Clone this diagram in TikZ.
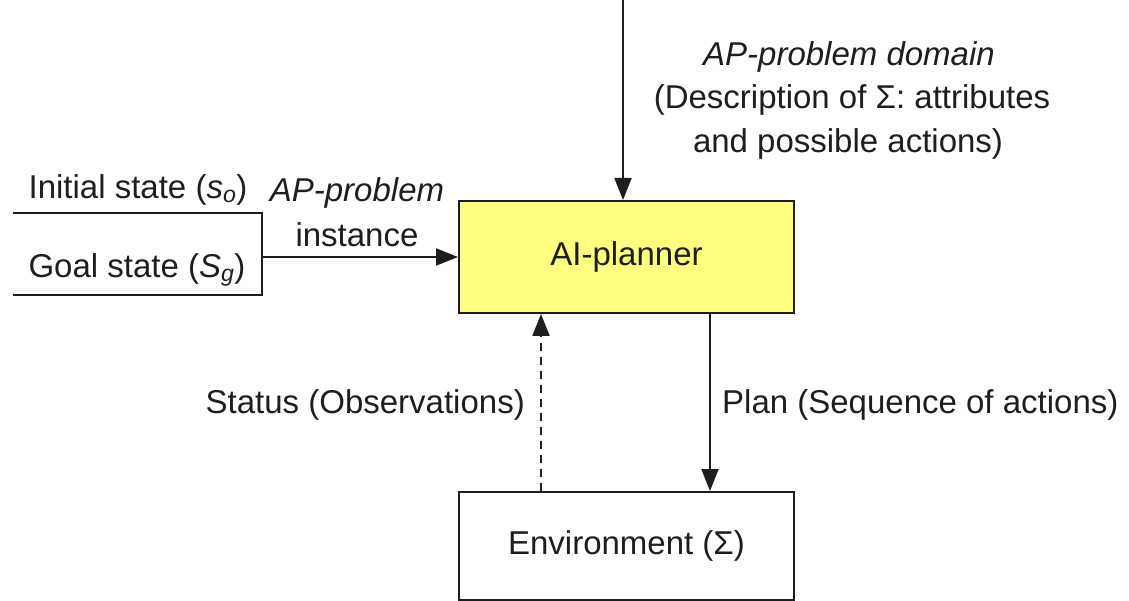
\documentclass[tikz,border=0pt]{standalone}
\usepackage{fontspec}
\setmainfont{Liberation Sans}
\usetikzlibrary{arrows.meta}
\definecolor{plannerfill}{RGB}{255,255,128}
\definecolor{ink}{RGB}{30,30,30}
\begin{document}
\begin{tikzpicture}[x=1pt,y=-1pt,
  every node/.style={font=\fontsize{33}{40}\selectfont, text=ink, inner sep=0pt},
  boxstyle/.style={draw=ink, line width=2pt, minimum width=335pt, anchor=north west},
  conn/.style={draw=ink, line width=2pt, -{Triangle[length=22pt,width=17pt]}},
  edge/.style={draw=ink, line width=2pt}]
\useasboundingbox (0,0) rectangle (1129,601);
\node[boxstyle, fill=plannerfill, minimum height=112pt] (planner) at (458,200) {};
\node at (planner.center) {AI-planner};
\node[boxstyle, minimum height=108pt] (env) at (458,491) {};
\node at (env.center) {Environment (Σ)};
% left input bracket
\coordinate (tl) at (13,213);
\coordinate (tr) at (262,213);
\coordinate (br) at (262,295);
\coordinate (bl) at (13,295);
\coordinate (mid) at (262,257);
\draw[edge] (tl) -- (tr) -- (br) -- (bl);
\node (init) at (138,190) {Initial state ({\itshape s}\textsubscript{\itshape o})};
\node (goal) at (137,270) {Goal state ({\itshape S}\textsubscript{\itshape g})};
\draw[conn] (mid) -- (mid -| planner.west);
\node (api) at (357,193) {\itshape AP-problem};
\node (inst) at (357,235) {instance};
% top arrow
\coordinate (top) at (623,0);
\draw[conn] (top) -- (top |- planner.north);
\node (dom1) at (849,57) {\itshape AP-problem domain};
\node (dom2) at (852,100) {(Description of Σ: attributes};
\node (dom3) at (848,144) {and possible actions)};
% feedback
\coordinate (sb) at (541,491);
\draw[conn, dashed, dash pattern=on 8pt off 6pt] (sb) -- (sb |- planner.south);
\node[anchor=east] (status) at (525,405) {Status (Observations)};
\coordinate (pt) at (710,312);
\draw[conn] (pt) -- (pt |- env.north);
\node[anchor=west] (plan) at (722,405) {Plan (Sequence of actions)};
\end{tikzpicture}
\end{document}
